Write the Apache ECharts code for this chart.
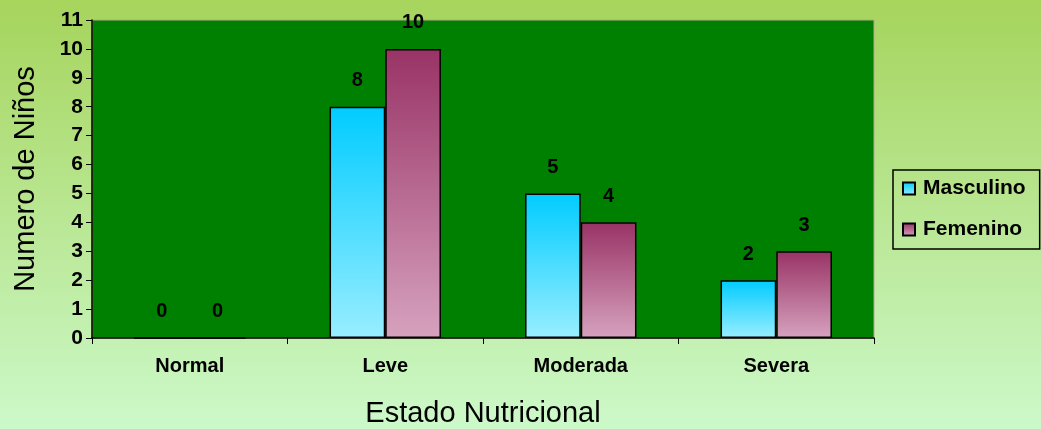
<!DOCTYPE html>
<html>
<head>
<meta charset="utf-8">
<script src="https://cdn.jsdelivr.net/npm/echarts@6/dist/echarts.min.js"></script>
<style>
  html, body { margin: 0; padding: 0; }
  #chart { width: 1041px; height: 429px; }
</style>
</head>
<body>
<div id="chart"></div>
<script>
const categories = ['Normal', 'Leve', 'Moderada', 'Severa']
const masculino = [0, 8, 5, 2]
const femenino = [0, 10, 4, 3]
const yTicks = [0, 1, 2, 3, 4, 5, 6, 7, 8, 9, 10, 11]

const font = '"Liberation Sans", Arial, sans-serif'
const chart = echarts.init(document.getElementById('chart'), null, { renderer: 'canvas' })

const grad = (top, bottom) => new echarts.graphic.LinearGradient(0, 0, 0, 1, [
  { offset: 0, color: top },
  { offset: 1, color: bottom },
])

const labelStyle = {
  show: true, position: 'top', distance: 16,
  color: '#000', fontFamily: font, fontWeight: 'bold', fontSize: 20,
}

chart.setOption({
  animation: false,
  backgroundColor: grad('#a6d45c', '#ccf9c9'),
  grid: {
    left: 92, right: 167, top: 20, bottom: 91,
    outerBoundsMode: 'none',
    show: true, backgroundColor: '#008000', borderColor: '#b8a890', borderWidth: 1,
  },
  legend: {
    orient: 'vertical', left: 893, top: 170,
    padding: [8, 14, 9, 9],
    itemGap: 20, itemWidth: 12, itemHeight: 12,
    borderColor: '#000', borderWidth: 1.5,
    icon: 'rect',
    textStyle: { color: '#000', fontFamily: font, fontWeight: 'bold', fontSize: 21, padding: [0, 0, 0, 3] },
    data: ['Masculino', 'Femenino'],
  },
  xAxis: {
    type: 'category',
    data: categories,
    name: 'Estado Nutricional',
    nameLocation: 'middle', nameGap: 61,
    nameTextStyle: { color: '#000', fontFamily: font, fontSize: 29 },
    axisLine: { lineStyle: { color: '#000', width: 1.5 } },
    axisTick: { show: true, length: 6, lineStyle: { color: '#000' } },
    axisLabel: { color: '#000', fontFamily: font, fontWeight: 'bold', fontSize: 20, margin: 18 },
  },
  yAxis: {
    type: 'value',
    min: yTicks[0], max: yTicks[yTicks.length - 1], interval: 1,
    name: 'Numero de Niños',
    nameLocation: 'middle', nameGap: 52,
    nameTextStyle: { color: '#000', fontFamily: font, fontSize: 29 },
    axisLine: { show: true, lineStyle: { color: '#000', width: 1.5 } },
    axisTick: { show: true, length: 6, lineStyle: { color: '#000' } },
    axisLabel: { color: '#000', fontFamily: font, fontWeight: 'bold', fontSize: 21, margin: 9 },
    splitLine: { show: false },
  },
  series: [
    {
      name: 'Masculino', type: 'bar', data: masculino,
      barGap: '0%', barCategoryGap: '43%',
      itemStyle: { color: grad('#00ccff', '#99eeff'), borderColor: '#000', borderWidth: 1.5 },
      label: labelStyle,
    },
    {
      name: 'Femenino', type: 'bar', data: femenino,
      itemStyle: { color: grad('#993366', '#d6a2be'), borderColor: '#000', borderWidth: 1.5 },
      label: labelStyle,
    },
  ],
})
</script>
</body>
</html>
